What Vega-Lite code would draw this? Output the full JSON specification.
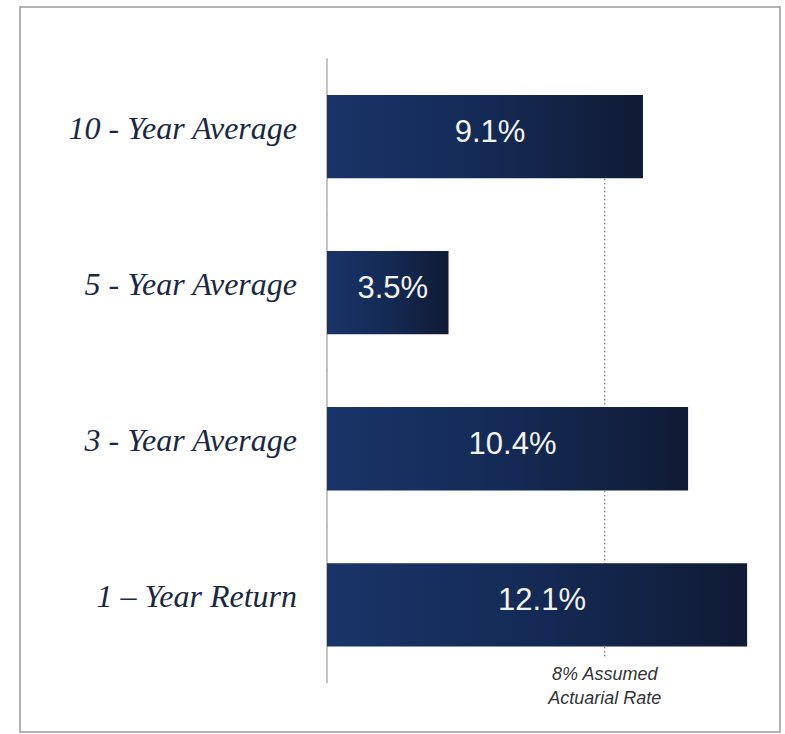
{
  "$schema": "https://vega.github.io/schema/vega-lite/v6.json",
  "width": 760,
  "height": 725,
  "padding": {"left": 20, "top": 7, "right": 5, "bottom": 2},
  "background": "white",
  "config": {"view": {"stroke": "#9a9a9a", "strokeWidth": 1.5}},
  "datasets": {
    "returns": [
      {"category": "10 - Year Average", "value": 9.1, "label": "9.1%"},
      {"category": "5 - Year Average", "value": 3.5, "label": "3.5%"},
      {"category": "3 - Year Average", "value": 10.4, "label": "10.4%"},
      {"category": "1 – Year Return", "value": 12.1, "label": "12.1%"}
    ],
    "note": [
      {"rate": 8, "note": "8% Assumed\nActuarial Rate"}
    ]
  },
  "data": {"name": "returns"},
  "resolve": {"scale": {"x": "independent"}},
  "layer": [
    {
      "layer": [
        {
          "mark": {"type": "rule", "color": "#8a8a8a", "strokeWidth": 1},
          "encoding": {
            "x": {"datum": 0, "type": "quantitative", "scale": {"domain": [-8.842, 13.047], "nice": false, "zero": false}, "axis": null},
            "y": {"field": "category", "type": "nominal", "bandPosition": -0.44, "axis": null},
            "y2": {"field": "category", "bandPosition": 1.44}
          }
        },
        {
          "data": {"name": "note"},
          "mark": {"type": "rule", "color": "#666666", "strokeWidth": 1, "strokeDash": [1.5, 2.5]},
          "encoding": {
            "x": {"field": "rate", "type": "quantitative", "scale": {"domain": [-8.842, 13.047], "nice": false, "zero": false}, "axis": null},
            "y": {"datum": "10 - Year Average", "type": "nominal", "bandPosition": 0, "axis": null},
            "y2": {"datum": "1 – Year Return", "bandPosition": 1.14}
          }
        },
        {
          "mark": {
            "type": "bar",
            "color": {
              "gradient": "linear",
              "x1": 0, "y1": 0, "x2": 1, "y2": 0,
              "stops": [
                {"offset": 0, "color": "#1a3468"},
                {"offset": 0.5, "color": "#142a55"},
                {"offset": 1, "color": "#101b34"}
              ]
            }
          },
          "encoding": {
            "x": {"field": "value", "type": "quantitative", "scale": {"domain": [-8.842, 13.047], "nice": false, "zero": false}, "axis": null},
            "x2": {"datum": 0},
            "y": {
              "field": "category", "type": "nominal", "axis": null,
              "scale": {
                "domain": ["10 - Year Average", "5 - Year Average", "3 - Year Average", "1 – Year Return"],
                "paddingInner": 0.4664, "paddingOuter": 0.5555, "align": 0.507
              }
            }
          }
        },
        {
          "mark": {"type": "text", "align": "right", "baseline": "alphabetic", "dx": -30, "font": "Liberation Serif", "fontStyle": "italic", "fontSize": 32, "color": "#1a2745"},
          "encoding": {
            "x": {"datum": 0, "type": "quantitative", "scale": {"domain": [-8.842, 13.047], "nice": false, "zero": false}, "axis": null},
            "y": {"field": "category", "type": "nominal", "bandPosition": 0.53, "axis": null},
            "text": {"field": "category"}
          }
        },
        {
          "data": {"name": "note"},
          "mark": {"type": "text", "align": "center", "baseline": "alphabetic", "lineBreak": "\n", "lineHeight": 24, "font": "Liberation Sans", "fontStyle": "italic", "fontSize": 18, "color": "#333333"},
          "encoding": {
            "x": {"field": "rate", "type": "quantitative", "scale": {"domain": [-8.842, 13.047], "nice": false, "zero": false}, "axis": null},
            "y": {"datum": "1 – Year Return", "type": "nominal", "bandPosition": 1.4, "axis": null},
            "text": {"field": "note"}
          }
        }
      ]
    },
    {
      "mark": {"type": "text", "align": "center", "baseline": "alphabetic", "dx": 5, "font": "Liberation Sans", "fontSize": 31, "color": "#f2f2f2"},
      "encoding": {
        "x": {"field": "value", "type": "quantitative", "scale": {"domain": [-17.684, 26.094], "nice": false, "zero": false}, "axis": null},
        "y": {"field": "category", "type": "nominal", "bandPosition": 0.56, "axis": null},
        "text": {"field": "label"}
      }
    }
  ]
}
